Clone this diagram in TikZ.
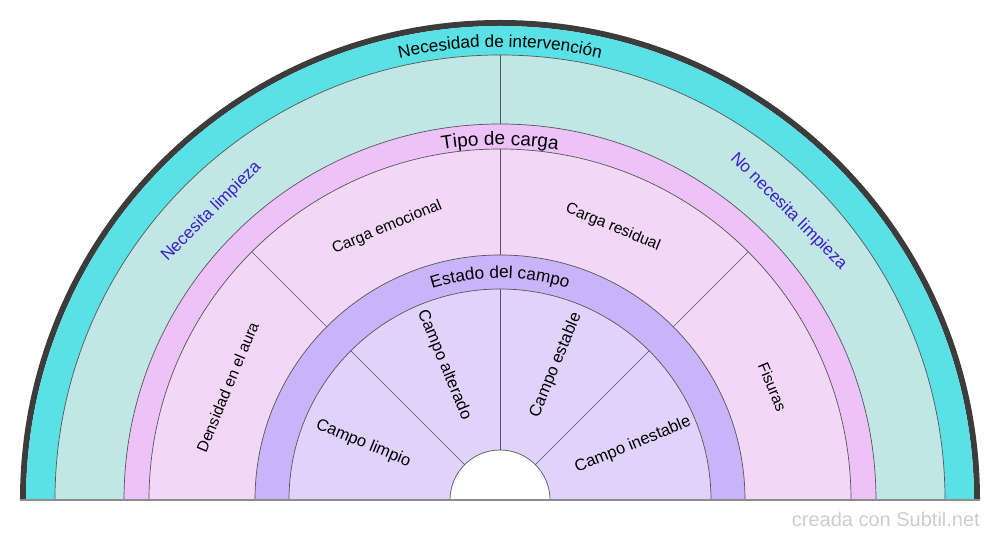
\documentclass[tikz,border=0pt]{standalone}
\usepackage{fontspec}
\setmainfont{Liberation Sans}
\usetikzlibrary{decorations.text}
\definecolor{cyanband}{RGB}{90,225,230}
\definecolor{tealring}{RGB}{192,230,230}
\definecolor{pinkband}{RGB}{236,194,248}
\definecolor{pinkring}{RGB}{242,215,247}
\definecolor{purpband}{RGB}{201,180,250}
\definecolor{lavring}{RGB}{223,211,252}
\definecolor{bordercol}{RGB}{60,60,60}
\definecolor{linecol}{RGB}{85,85,85}
\definecolor{labelblue}{RGB}{60,30,200}
\definecolor{wmark}{RGB}{205,205,205}
\newcommand\myring[3]{\fill[#3] (0:#1) arc (0:180:#1) -- (180:#2) arc (180:0:#2) -- cycle;}
\newcommand\myarctext[3]{\path[decorate, decoration={text along path, text align=center, text={|\fontsize{#2}{#2}\selectfont|#3}}] (180:#1) arc (180:0:#1);}
\tikzset{
  arcline/.style={draw=linecol, line width=0.7pt},
  divline/.style={draw=linecol, line width=0.7pt},
  baseln/.style={draw=gray!90, line width=1.6pt},
  midlabel/.style={inner sep=0pt, font=\fontsize{15.5}{18}\selectfont},
  innlabel/.style={inner sep=0pt, font=\fontsize{16.5}{19}\selectfont},
  outlabel/.style={inner sep=0pt, text=labelblue, font=\fontsize{17}{20}\selectfont}
}
\begin{document}
\begin{tikzpicture}
\useasboundingbox (-500pt,-40pt) rectangle (500pt,500pt);
\myring{480pt}{474pt}{bordercol}
\myring{474pt}{445pt}{cyanband}
\myring{445pt}{376pt}{tealring}
\myring{376pt}{351pt}{pinkband}
\myring{351pt}{245pt}{pinkring}
\myring{245pt}{211pt}{purpband}
\myring{211pt}{50pt}{lavring}
\foreach \r in {445,376,351,245,211,50} \draw[arcline] (0:\r pt) arc (0:180:\r pt);
\draw[divline] (90:376pt) -- (90:445pt);
\foreach \a in {45,90,135} \draw[divline] (\a:245pt) -- (\a:351pt);
\foreach \a in {45,90,135} \draw[divline] (\a:50pt) -- (\a:211pt);
\draw[baseln] (-480pt,0pt) -- (480pt,0pt);
% headers
\myarctext{453pt}{17.2}{Necesidad de intervención}
\myarctext{355pt}{19}{Tipo de carga}
\myarctext{222pt}{17.2}{Estado del campo}
% outer ring
\node[outlabel, rotate=45] (nl) at (135:408pt) {Necesita limpieza};
\node[outlabel, rotate=-45] (nnl) at (45:408pt) {No necesita limpieza};
% middle ring
\node[midlabel, rotate=67.5] (da) at (157.5:295pt) {Densidad en el aura};
\node[midlabel, rotate=22.5] (ce) at (112.5:295pt) {Carga emocional};
\node[midlabel, rotate=-22.5] (cr) at (67.5:295pt) {Carga residual};
\node[midlabel, rotate=-67.5] (fi) at (22.5:295pt) {Fisuras};
% inner ring
\node[innlabel, rotate=-22.5] (cl) at (157.5:148pt) {Campo limpio};
\node[innlabel, rotate=-67.5] (ca) at (112.5:146pt) {Campo alterado};
\node[innlabel, rotate=67.5] (cs) at (67.5:146pt) {Campo estable};
\node[innlabel, rotate=22.5] (ci) at (22.5:144pt) {Campo inestable};
% watermark
\node[anchor=base east, inner sep=0pt, text=wmark, font=\fontsize{20}{22}\selectfont] (wm) at (480pt,-27pt) {creada con Subtil.net};
\end{tikzpicture}
\end{document}
